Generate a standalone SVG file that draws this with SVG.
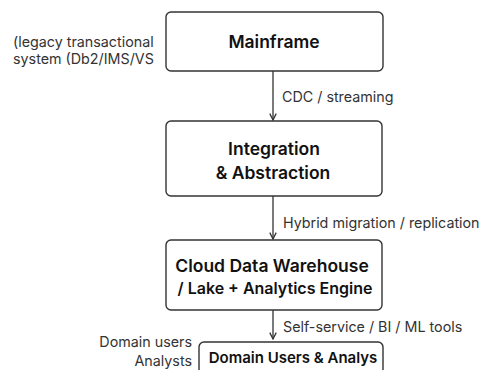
<svg xmlns="http://www.w3.org/2000/svg" width="480" height="370" viewBox="0 0 480 370">
<style>
.box{fill:#fff;stroke:#333;stroke-width:1.4}
.t{font-family:Inter,"Liberation Sans",sans-serif;font-weight:600;fill:#111;text-anchor:middle}
.l{font-family:Inter,"Liberation Sans",sans-serif;fill:#333;font-size:14.3px}
.e{stroke:#333;stroke-width:1.3;fill:none;marker-end:url(#ah)}
</style>
<defs>
<marker id="ah" viewBox="0 0 10 10" refX="9" refY="5" markerWidth="8" markerHeight="8" markerUnits="userSpaceOnUse" orient="auto">
<path d="M1,1 L9,5 L1,9" fill="none" stroke="#333" stroke-width="1.6"/>
</marker>
</defs>
<rect width="480" height="370" fill="#fff"/>
<g id="legacy-note">
<text class="l" x="13" y="47">(legacy transactional</text>
<text class="l" x="13" y="64">system (Db2/IMS/VS</text>
</g>
<g id="mainframe">
<rect class="box" x="166" y="12" width="217" height="59" rx="5"/>
<text class="t" x="274" y="48" font-size="17.5">Mainframe</text>
</g>
<g id="integration">
<rect class="box" x="166" y="121" width="216" height="75" rx="5"/>
<text class="t" x="274" y="155" font-size="17.5">Integration</text>
<text class="t" x="273" y="179" font-size="17.5">&amp; Abstraction</text>
</g>
<g id="cloud">
<rect class="box" x="166" y="240" width="216" height="70" rx="5"/>
<text class="t" x="272" y="272" font-size="17.5">Cloud Data Warehouse</text>
<text class="t" x="275" y="294" font-size="16">/ Lake + Analytics Engine</text>
</g>
<g id="users">
<rect class="box" x="199" y="342" width="184" height="32" rx="5"/>
<text class="t" x="293" y="363" font-size="15">Domain Users &amp; Analys</text>
</g>
<g id="users-note">
<text class="l" x="192" y="347" text-anchor="end">Domain users</text>
<text class="l" x="192" y="366" text-anchor="end">Analysts</text>
</g>
<g id="connectors">
<line class="e" x1="273" y1="71" x2="273" y2="120"/>
<line class="e" x1="273" y1="196" x2="273" y2="239"/>
<line class="e" x1="273" y1="310" x2="273" y2="339"/>
<text class="l" x="282" y="102">CDC / streaming</text>
<text class="l" x="283" y="228">Hybrid migration / replication</text>
<text class="l" x="283" y="332">Self-service / BI / ML tools</text>
</g>
</svg>
